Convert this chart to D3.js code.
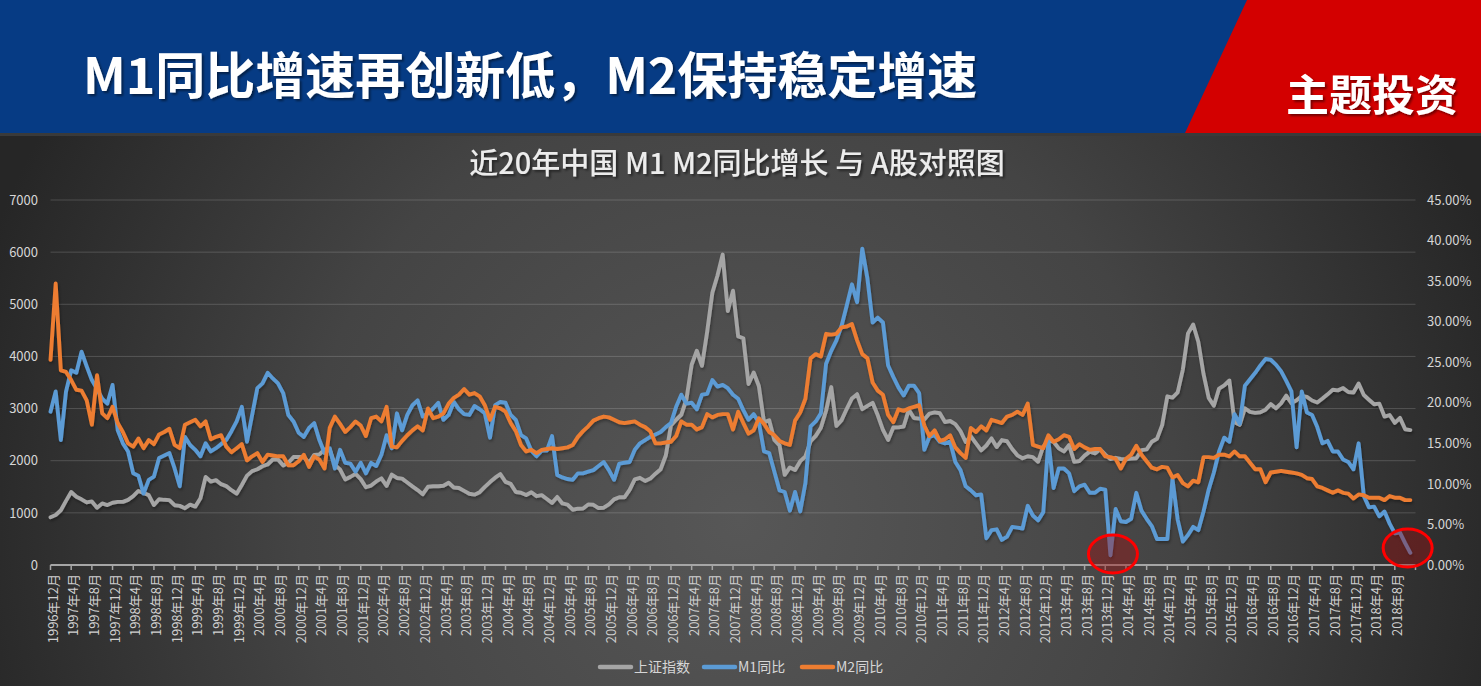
<!DOCTYPE html>
<html>
<head>
<meta charset="utf-8">
<script src="https://cdn.jsdelivr.net/npm/d3@7"></script>
<style>
  html, body { margin: 0; padding: 0; background: #2b2b2b; }
  svg { display: block; }
  text { font-family: "Noto Sans CJK SC", "Liberation Sans", sans-serif; }
</style>
</head>
<body>
<svg id="chart" width="1481" height="686"></svg>
<script>
// ---------------- DATA ----------------
const pageTitle = "M1同比增速再创新低，M2保持稳定增速";
const tagText = "主题投资";
const chartTitle = "近20年中国 M1 M2同比增长 与 A股对照图";
const seriesNames = ["上证指数", "M1同比", "M2同比"];

// monthly categories: 1996年12月 ... 2018年11月 (264 months)
const startYear = 1996, startMonth = 12, monthCount = 264;

// tick labels every 4 months
const xTickLabels = [
  "1996年12月",
  "1997年4月","1997年8月","1997年12月",
  "1998年4月","1998年8月","1998年12月",
  "1999年4月","1999年8月","1999年12月",
  "2000年4月","2000年8月","2000年12月",
  "2001年4月","2001年8月","2001年12月",
  "2002年4月","2002年8月","2002年12月",
  "2003年4月","2003年8月","2003年12月",
  "2004年4月","2004年8月","2004年12月",
  "2005年4月","2005年8月","2005年12月",
  "2006年4月","2006年8月","2006年12月",
  "2007年4月","2007年8月","2007年12月",
  "2008年4月","2008年8月","2008年12月",
  "2009年4月","2009年8月","2009年12月",
  "2010年4月","2010年8月","2010年12月",
  "2011年4月","2011年8月","2011年12月",
  "2012年4月","2012年8月","2012年12月",
  "2013年4月","2013年8月","2013年12月",
  "2014年4月","2014年8月","2014年12月",
  "2015年4月","2015年8月","2015年12月",
  "2016年4月","2016年8月","2016年12月",
  "2017年4月","2017年8月","2017年12月",
  "2018年4月","2018年8月"
];
const leftTicks = [0, 1000, 2000, 3000, 4000, 5000, 6000, 7000];
const rightTicks = [0, 5, 10, 15, 20, 25, 30, 35, 40, 45];

// 上证指数 (monthly close)
const sse = [
  917, 960, 1050, 1230, 1400, 1310, 1260, 1200, 1220, 1100, 1180, 1150,
  1194, 1210, 1210, 1250, 1320, 1420, 1380, 1340, 1150, 1260, 1250, 1245,
  1147, 1134, 1090, 1158, 1120, 1280, 1690, 1601, 1627, 1550, 1512, 1435,
  1367, 1535, 1714, 1800, 1836, 1894, 1928, 2023, 2022, 1910, 1961, 2070,
  2073, 2066, 1960, 2113, 2120, 2214, 2218, 1920, 1834, 1642, 1690, 1747,
  1646, 1491, 1524, 1603, 1661, 1516, 1733, 1669, 1657, 1581, 1507, 1437,
  1358, 1500, 1511, 1511, 1521, 1577, 1487, 1477, 1421, 1367, 1349, 1397,
  1497, 1590, 1675, 1742, 1595, 1555, 1399, 1386, 1342, 1396, 1320, 1340,
  1266, 1191, 1306, 1181, 1159, 1060, 1080, 1083, 1162, 1155, 1092, 1099,
  1161, 1258, 1299, 1298, 1440, 1641, 1672, 1612, 1658, 1752, 1837, 2099,
  2675, 2786, 2881, 3183, 3841, 4109, 3820, 4471, 5218, 5552, 5954, 4871,
  5262, 4383, 4348, 3472, 3693, 3433, 2736, 2776, 2397, 2293, 1729, 1871,
  1821, 1991, 2082, 2373, 2477, 2632, 2959, 3412, 2667, 2779, 2996, 3195,
  3277, 2989, 3051, 3110, 2871, 2592, 2398, 2638, 2639, 2656, 2979, 2820,
  2808, 2791, 2905, 2928, 2911, 2743, 2762, 2701, 2568, 2359, 2468, 2333,
  2199, 2292, 2428, 2262, 2396, 2373, 2225, 2103, 2047, 2086, 2069, 1980,
  2269, 2385, 2365, 2237, 2178, 2301, 1979, 1994, 2098, 2175, 2141, 2220,
  2116, 2033, 2056, 2033, 2026, 2039, 2048, 2202, 2217, 2364, 2420, 2683,
  3235, 3210, 3310, 3748, 4442, 4612, 4277, 3664, 3206, 3053, 3383, 3445,
  3539, 2738, 2688, 3004, 2938, 2917, 2930, 2979, 3085, 3005, 3100, 3250,
  3104, 3159, 3242, 3223, 3155, 3117, 3192, 3273, 3361, 3349, 3393, 3317,
  3307, 3481, 3259, 3169, 3082, 3095, 2847, 2876, 2725, 2821, 2603, 2588
];

// M1同比 (%)
const m1 = [
  18.9, 21.4, 15.4, 21.4, 24.0, 23.7, 26.3, 24.5, 22.8, 21.7, 20.5, 19.9,
  22.2, 16.6, 15.0, 14.0, 11.3, 11.0, 8.8, 10.5, 10.9, 13.2, 13.5, 13.8,
  11.9, 9.7, 15.8, 14.8, 14.2, 13.4, 15.0, 14.0, 14.4, 14.9, 15.4, 16.5,
  17.7, 19.5, 15.2, 18.5, 21.8, 22.4, 23.7, 23.0, 22.4, 21.2, 18.5, 17.7,
  16.3, 15.8, 16.9, 17.5, 15.4, 13.8, 14.4, 11.9, 14.2, 12.6, 12.5, 11.5,
  12.6, 11.3, 12.6, 12.2, 13.6, 16.0, 14.4, 18.7, 16.6, 18.5, 19.7, 20.3,
  18.3, 18.7, 19.3, 20.0, 17.9, 18.5, 20.1, 19.2, 18.6, 18.5, 19.6, 19.2,
  18.7, 15.7, 19.7, 20.1, 20.0, 18.5, 17.9, 16.0, 15.6, 14.1, 13.4, 14.1,
  14.1, 15.9, 11.1, 10.8, 10.6, 10.5, 11.3, 11.3, 11.5, 11.7, 12.2, 12.7,
  11.7, 10.5, 12.5, 12.6, 12.7, 14.2, 15.0, 15.4, 15.8, 16.1, 16.4, 17.0,
  17.5, 19.5, 21.0, 19.9, 20.0, 19.2, 21.0, 21.1, 22.8, 22.0, 22.2, 21.8,
  21.0, 20.5, 19.1, 17.9, 18.6, 17.6, 14.0, 13.8, 11.5, 9.2, 9.0, 6.7,
  9.0, 6.6, 10.1, 17.1, 17.7, 18.7, 24.8, 26.4, 27.7, 29.5, 32.0, 34.6,
  32.4, 39.0, 35.3, 29.9, 30.5, 29.9, 24.6, 23.2, 21.9, 20.9, 22.1, 22.1,
  21.2, 14.2, 15.8, 16.0, 15.2, 15.0, 15.2, 12.7, 11.7, 9.7, 9.2, 8.6,
  8.7, 3.3, 4.3, 4.4, 3.1, 3.5, 4.7, 4.6, 4.5, 7.3, 6.1, 5.5,
  6.5, 15.3, 9.5, 11.9, 11.9, 11.3, 9.1, 9.7, 9.9, 8.9, 8.9, 9.4,
  9.3, 1.2, 6.9, 5.4, 5.3, 5.7, 8.9, 6.7, 5.7, 4.8, 3.2, 3.2,
  3.2, 10.6, 5.6, 2.9, 3.7, 4.7, 4.3, 6.6, 9.3, 11.4, 14.0, 15.7,
  15.2, 18.6, 17.4, 22.1, 22.9, 23.7, 24.6, 25.4, 25.3, 24.7, 23.9, 22.7,
  21.4, 14.5, 21.4, 18.8, 18.5, 17.0, 15.0, 15.3, 14.0, 14.0, 13.0, 12.7,
  11.8, 15.0, 8.5, 7.1, 7.2, 6.0, 6.6, 5.1, 3.9, 4.0, 2.7, 1.5
];

// M2同比 (%)
const m2 = [
  25.3, 34.7, 24.0, 23.8, 22.8, 21.6, 21.5, 20.3, 17.3, 23.4, 18.7, 18.1,
  19.5, 17.5, 16.4, 15.0, 14.6, 15.6, 14.4, 15.4, 14.9, 16.1, 16.4, 16.8,
  14.8, 14.4, 17.3, 17.6, 17.9, 17.1, 17.7, 15.5, 15.8, 16.0, 14.6, 13.9,
  14.4, 14.9, 12.9, 13.4, 13.8, 12.7, 13.6, 13.5, 13.4, 13.4, 12.3, 12.3,
  12.8, 13.6, 12.1, 13.4, 13.0, 11.9, 16.9, 18.3, 17.4, 16.4, 17.0, 17.7,
  17.2, 15.9, 18.1, 18.3, 17.7, 19.5, 14.6, 14.5, 15.3, 16.0, 16.6, 17.1,
  16.6, 19.3, 18.1, 18.3, 18.7, 19.9, 20.6, 21.0, 21.7, 21.0, 21.2, 20.8,
  19.7, 17.9, 19.5, 19.3, 18.9, 17.5, 16.5, 14.8, 14.0, 14.2, 13.8, 14.2,
  14.3, 14.4, 14.3, 14.4, 14.5, 14.8, 15.8, 16.5, 17.1, 17.8, 18.1, 18.3,
  18.2, 17.9, 17.6, 17.5, 17.6, 17.7, 17.3, 17.0, 16.5, 15.0, 15.0, 15.1,
  15.2, 15.9, 17.7, 17.3, 17.3, 16.7, 17.0, 18.6, 18.2, 18.5, 18.6, 18.6,
  16.7, 18.9, 17.5, 16.2, 16.6, 18.1, 17.4, 16.4, 16.0, 15.3, 15.0, 14.8,
  17.8, 18.8, 20.5, 25.5, 26.0, 25.7, 28.5, 28.4, 28.5, 29.3, 29.4, 29.7,
  27.7, 26.0, 25.5, 22.5, 21.5, 21.0, 18.5, 17.6, 19.2, 19.0, 19.3, 19.5,
  19.7, 17.2, 15.9, 16.6, 15.3, 15.5, 16.0, 14.5, 13.8, 13.2, 16.9, 16.4,
  17.1, 16.6, 17.9, 17.7, 17.5, 18.3, 18.5, 18.9, 18.5, 19.9, 14.8, 14.6,
  14.4, 16.0, 15.2, 15.5, 16.0, 15.8, 14.3, 14.9, 14.5, 14.2, 14.3, 14.3,
  13.4, 13.3, 13.1, 11.9, 13.1, 13.6, 14.7, 13.6, 12.8, 12.0, 11.8, 12.1,
  12.0, 10.8, 11.1, 10.1, 9.7, 10.4, 10.2, 13.3, 13.3, 13.2, 13.6, 13.6,
  13.4, 14.0, 13.4, 13.4, 12.6, 11.8, 11.8, 10.2, 11.4, 11.5, 11.6, 11.5,
  11.4, 11.3, 11.1, 10.7, 10.6, 9.7, 9.5, 9.2, 8.9, 9.2, 8.9, 8.8,
  8.2, 8.7, 8.6, 8.3, 8.3, 8.3, 8.0, 8.5, 8.3, 8.3, 8.0, 8.0
];

// highlighted months (index into categories)
const highlightMonths = ["2014年1月", "2018年10月"];

// ---------------- BUILD ----------------
const categories = [];
{
  let y = startYear, m = startMonth;
  for (let k = 0; k < monthCount; k++) {
    categories.push(y + "年" + m + "月");
    m++; if (m > 12) { m = 1; y++; }
  }
}

const W = 1481, H = 686;
const svg = d3.select("#chart");
const defs = svg.append("defs");

const bg = defs.append("radialGradient").attr("id", "bgGrad")
  .attr("gradientUnits", "userSpaceOnUse")
  .attr("cx", 740).attr("cy", 520).attr("r", 800);
bg.append("stop").attr("offset", "0").attr("stop-color", "#575757");
bg.append("stop").attr("offset", "0.55").attr("stop-color", "#444444");
bg.append("stop").attr("offset", "1").attr("stop-color", "#262626");

const shadow = defs.append("filter").attr("id", "lineShadow")
  .attr("x", "-5%").attr("y", "-10%").attr("width", "110%").attr("height", "120%");
shadow.append("feDropShadow").attr("dx", 1).attr("dy", 2).attr("stdDeviation", 1.5)
  .attr("flood-color", "#000").attr("flood-opacity", 0.35);

const textShadow = defs.append("filter").attr("id", "textShadow")
  .attr("x", "-5%").attr("y", "-20%").attr("width", "110%").attr("height", "140%");
textShadow.append("feDropShadow").attr("dx", 2).attr("dy", 2).attr("stdDeviation", 1)
  .attr("flood-color", "#000").attr("flood-opacity", 0.45);

// chart background
svg.append("rect").attr("x", 0).attr("y", 133).attr("width", W).attr("height", H - 133)
  .attr("fill", "url(#bgGrad)");

// banner
svg.append("rect").attr("x", 0).attr("y", 0).attr("width", W).attr("height", 133)
  .attr("fill", "#063b84");
svg.append("polygon").attr("points", "1247,0 1481,0 1481,133 1185,133").attr("fill", "#d30000");
svg.append("rect").attr("x", 0).attr("y", 133).attr("width", W).attr("height", 3)
  .attr("fill", "#3a3a3a");

svg.append("text").attr("x", 83).attr("y", 94)
  .attr("font-size", 50).attr("font-weight", 700).attr("fill", "#ffffff")
  .attr("filter", "url(#textShadow)")
  .text(pageTitle);
svg.append("text").attr("x", 1372).attr("y", 111).attr("text-anchor", "middle")
  .attr("font-size", 43).attr("font-weight", 700).attr("fill", "#ffffff")
  .attr("filter", "url(#textShadow)")
  .text(tagText);

// chart title
svg.append("text").attr("x", 737).attr("y", 174).attr("text-anchor", "middle")
  .attr("font-size", 29).attr("font-weight", 500).attr("fill", "#ececec")
  .attr("filter", "url(#textShadow)")
  .text(chartTitle);

// scales
const x = d3.scaleLinear().domain([0, 264]).range([50.5, 1415.5]);
const yL = d3.scaleLinear().domain([0, 7000]).range([565, 200]);
const yR = d3.scaleLinear().domain([0, 45]).range([565, 200]);

// gridlines
svg.append("g").selectAll("line").data(leftTicks.filter(d => d > 0)).join("line")
  .attr("x1", x(0)).attr("x2", x(264))
  .attr("y1", d => yL(d)).attr("y2", d => yL(d))
  .attr("stroke", "#ffffff").attr("stroke-opacity", 0.17).attr("stroke-width", 1);

// left axis labels
const gL = svg.append("g").attr("transform", "translate(38,0)")
  .call(d3.axisLeft(yL).tickValues(leftTicks).tickSize(0).tickPadding(0).tickFormat(d3.format("d")));
gL.select(".domain").remove();
gL.selectAll("text").attr("font-size", 13).attr("fill", "#d6d6d6")
  .attr("font-family", "'Noto Sans CJK SC', sans-serif");

// right axis labels
const gR = svg.append("g").attr("transform", "translate(1427,0)")
  .call(d3.axisRight(yR).tickValues(rightTicks).tickSize(0).tickPadding(0)
    .tickFormat(d => d3.format(".2f")(d) + "%"));
gR.select(".domain").remove();
gR.selectAll("text").attr("font-size", 13).attr("fill", "#d6d6d6")
  .attr("font-family", "'Noto Sans CJK SC', sans-serif");

// x axis
const tickIdx = d3.range(0, 265, 4);
const gX = svg.append("g").attr("transform", "translate(0,565)");
gX.append("line").attr("x1", x(0)).attr("x2", x(264)).attr("y1", 0).attr("y2", 0)
  .attr("stroke", "#a6a6a6").attr("stroke-width", 2);
gX.selectAll("line.tick").data(tickIdx).join("line").attr("class", "tick")
  .attr("x1", d => x(d)).attr("x2", d => x(d)).attr("y1", 0).attr("y2", 5)
  .attr("stroke", "#a6a6a6").attr("stroke-width", 1.5);
gX.selectAll("text").data(xTickLabels).join("text")
  .attr("transform", (d, k) => `translate(${x(k * 4) + 2.5},9) rotate(-90)`)
  .attr("text-anchor", "end").attr("dy", "0.35em")
  .attr("font-size", 13).attr("fill", "#d0d0d0")
  .text(d => d);

// lines
const lineL = d3.line().x((d, i) => x(i)).y(d => yL(d));
const lineR = d3.line().x((d, i) => x(i)).y(d => yR(d));
const gLines = svg.append("g").attr("filter", "url(#lineShadow)");
const common = p => p.attr("fill", "none").attr("stroke-width", 3.9)
  .attr("stroke-linejoin", "round").attr("stroke-linecap", "round");
gLines.append("path").datum(sse).attr("d", lineL).attr("stroke", "#a5a5a5").call(common);
gLines.append("path").datum(m1).attr("d", lineR).attr("stroke", "#5b9bd5").call(common);
gLines.append("path").datum(m2).attr("d", lineR).attr("stroke", "#ed7d31").call(common);

// highlight ellipses
const hl = highlightMonths.map(h => categories.indexOf(h));
svg.append("g").selectAll("ellipse").data(hl).join("ellipse")
  .attr("cx", d => x(d) + 2.5).attr("cy", d => d === hl[0] ? 554 : 548)
  .attr("rx", 24.5).attr("ry", 19)
  .attr("fill", "#a01010").attr("fill-opacity", 0.4)
  .attr("stroke", "#ff0000").attr("stroke-width", 3);

// legend
const legendItems = [
  { name: seriesNames[0], color: "#a5a5a5", x: 600 },
  { name: seriesNames[1], color: "#5b9bd5", x: 704 },
  { name: seriesNames[2], color: "#ed7d31", x: 802 }
];
const gLeg = svg.append("g");
legendItems.forEach(it => {
  gLeg.append("line").attr("x1", it.x).attr("x2", it.x + 31).attr("y1", 667).attr("y2", 667)
    .attr("stroke", it.color).attr("stroke-width", 4.5).attr("stroke-linecap", "round");
  gLeg.append("text").attr("x", it.x + 34).attr("y", 667).attr("dy", "0.35em")
    .attr("font-size", 14).attr("fill", "#d6d6d6").text(it.name);
});
</script>
</body>
</html>
